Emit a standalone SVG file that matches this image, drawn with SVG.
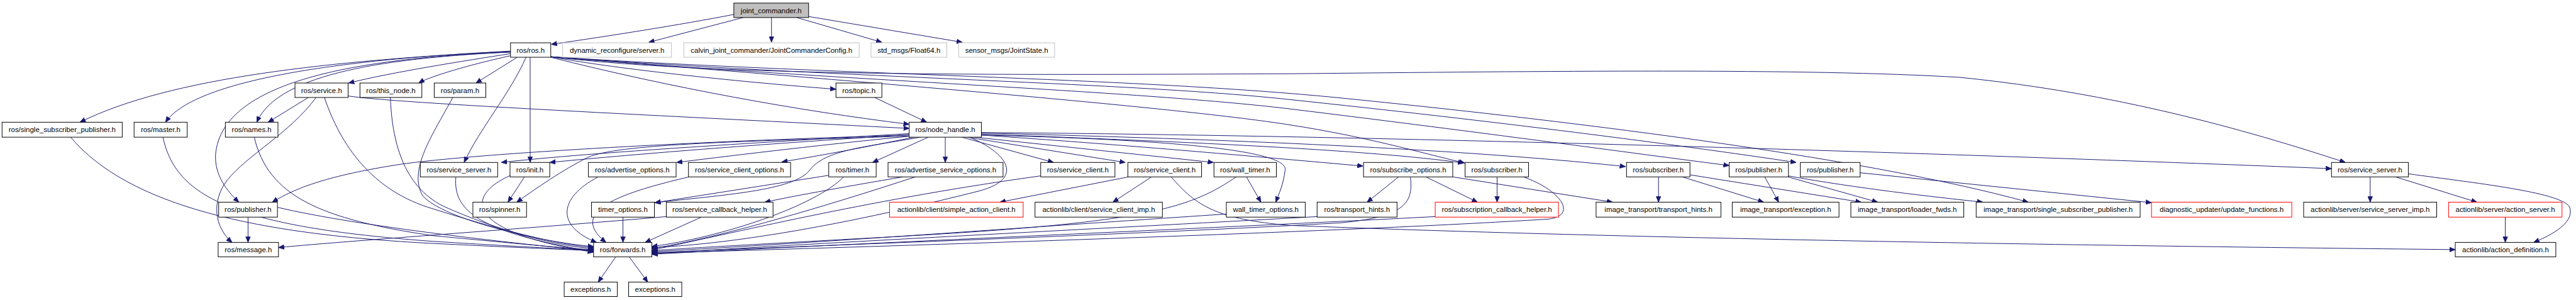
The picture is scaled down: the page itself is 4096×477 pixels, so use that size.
<svg xmlns="http://www.w3.org/2000/svg" width="4096" height="477" viewBox="0 0 4096 477">
<style>
.node rect{fill:#fff;stroke:#000;stroke-width:1.2}
.node.ext rect{stroke:#bfbfbf}
.node.trunc rect{stroke:#ff0000}
.node.root rect{fill:#bfbfbf}
.node text{font-family:"Liberation Sans",Arial,sans-serif;font-size:14px;fill:#000;text-anchor:middle}
.edges path{fill:none;stroke:#191970;stroke-width:1.2;marker-end:url(#arr)}
</style>
<defs>
<marker id="arr" markerUnits="userSpaceOnUse" markerWidth="11" markerHeight="10" viewBox="0 -5 11 10" refX="11" refY="0" orient="auto">
<path d="M0,-4.5 L11,0 L0,4.5 Z" fill="#191970" stroke="#191970" stroke-width="1"/>
</marker>
</defs>
<rect width="4096" height="477" fill="#fff"/>
<g transform="scale(0.82)">
<g class="edges" id="edges">
<path d="M1423,28 C1320,48 1180,70 1069,86"/>
<path d="M1441,34 L1258,82"/>
<path d="M1496,34 L1496,82"/>
<path d="M1545,34 L1710,82"/>
<path d="M1568,32 L1866,82"/>
<path d="M990,99 C640,118 330,150 155,237"/>
<path d="M990,100 C700,112 380,150 321,237"/>
<path d="M990,101 C760,112 540,140 498,237"/>
<path d="M990,101 C720,112 430,150 418,300 C416,340 440,370 463,392"/>
<path d="M990,104 C900,118 760,140 676,161"/>
<path d="M990,108 C900,128 830,150 812,161"/>
<path d="M1003,111 L923,161"/>
<path d="M1020,111 C990,180 930,250 900,315"/>
<path d="M1028,111 L1028,315"/>
<path d="M1068,110 C1200,135 1450,160 1621,173"/>
<path d="M1068,111 C1300,170 1550,215 1763,241"/>
<path d="M1068,110 C1400,150 2000,145 2500,143 C3000,138 3500,132 3800,150 C4100,180 4350,250 4548,315"/>
<path d="M1068,110 C1600,145 2200,150 2600,190 C3000,230 3600,300 3933,392"/>
<path d="M1068,110 C1600,150 2200,160 2500,193 C2900,235 3250,280 3483,315"/>
<path d="M1068,110 C1600,155 2200,175 2500,211 C2900,260 3150,295 3353,321"/>
<path d="M1068,110 C1700,160 2300,210 2500,242 C2650,265 2750,295 2840,316"/>
<path d="M1696,189 L1797,237"/>
<path d="M598,189 L520,237"/>
<path d="M613,189 C560,260 480,300 440,350 C410,390 415,440 450,470"/>
<path d="M629,189 C660,280 720,370 840,405 C950,440 1080,475 1151,480"/>
<path d="M675,186 C760,200 1300,225 1763,249"/>
<path d="M757,189 C760,270 780,360 860,400 C960,445 1080,478 1151,482"/>
<path d="M878,189 C840,260 790,330 820,380 C860,425 1050,470 1151,478"/>
<path d="M137,266 C250,400 500,455 840,472 C1000,480 1100,484 1151,486"/>
<path d="M316,266 C340,380 450,440 840,468 C1000,478 1100,483 1151,485"/>
<path d="M493,266 C520,380 620,425 840,457 C1000,472 1100,482 1151,484"/>
<path d="M481,421 L481,470"/>
<path d="M538,402 C700,440 1000,472 1151,487"/>
<path d="M884,343 C878,410 930,450 1151,488"/>
<path d="M990,340 C900,380 900,450 1151,489"/>
<path d="M1017,343 L985,392"/>
<path d="M1763,262 C1400,272 950,295 780,318 C650,338 580,360 528,392"/>
<path d="M1763,259 C1500,275 1150,295 972,315"/>
<path d="M1763,261 C1500,278 1250,297 1066,315"/>
<path d="M1763,264 C1400,275 1200,280 1140,305 C1090,330 1040,365 1002,392"/>
<path d="M1765,264 C1600,280 1450,298 1312,315"/>
<path d="M1772,266 C1680,285 1600,300 1516,314"/>
<path d="M1785,266 C1680,285 1600,290 1570,330 C1540,370 1400,378 1270,393"/>
<path d="M1800,266 L1692,315"/>
<path d="M1833,266 L1833,315"/>
<path d="M1880,266 C1950,295 1990,345 1900,370 C1800,395 1500,470 1264,480"/>
<path d="M1865,266 L2043,315"/>
<path d="M1875,266 L2182,315"/>
<path d="M1890,266 L2353,315"/>
<path d="M1903,262 C2200,282 2450,305 2643,322"/>
<path d="M1903,262 C2250,270 2500,290 2492,330 C2488,360 2480,375 2474,392"/>
<path d="M1903,260 C2300,275 2650,290 2838,316"/>
<path d="M1903,258 C2300,268 2800,285 3152,323"/>
<path d="M1903,257 C2600,262 3600,290 4521,327"/>
<path d="M1751,343 C1650,360 1550,378 1483,392"/>
<path d="M1775,343 C1600,400 1400,460 1264,482"/>
<path d="M2018,341 C1700,385 1450,445 1264,485"/>
<path d="M2188,343 L1939,392"/>
<path d="M2233,343 L2158,392"/>
<path d="M2271,343 C2320,400 2360,425 2500,437 C3200,465 4200,478 4761,484"/>
<path d="M2417,343 L2445,392"/>
<path d="M2397,343 C2300,410 2200,435 1660,463 C1500,472 1350,480 1264,486"/>
<path d="M2378,415 C2000,440 1600,470 1264,488"/>
<path d="M1607,340 L1270,393"/>
<path d="M1636,343 C1580,400 1400,460 1264,478"/>
<path d="M1160,343 C1080,385 1080,440 1157,470"/>
<path d="M1336,343 C1200,375 1100,410 1175,470"/>
<path d="M1208,421 L1208,470"/>
<path d="M1360,421 L1251,470"/>
<path d="M1292,420 C1000,445 700,465 540,480"/>
<path d="M2712,343 L2651,392"/>
<path d="M2765,343 L2865,392"/>
<path d="M2735,343 C2740,390 2730,420 2600,432 C2200,455 1600,475 1264,490"/>
<path d="M2817,343 L3127,392"/>
<path d="M2903,343 L2903,392"/>
<path d="M2954,343 C3030,370 3060,420 3000,425 C2600,450 1800,475 1264,491"/>
<path d="M3216,343 L3216,392"/>
<path d="M3262,343 L3420,392"/>
<path d="M3277,339 L3609,392"/>
<path d="M2554,420 C2200,440 1600,470 1264,492"/>
<path d="M2783,420 C2300,445 1700,470 1264,493"/>
<path d="M3422,343 L3449,392"/>
<path d="M3467,343 L3641,392"/>
<path d="M3467,341 C3600,365 3750,382 3845,392"/>
<path d="M3607,335 L4172,393"/>
<path d="M4596,343 L4596,392"/>
<path d="M4645,343 L4803,392"/>
<path d="M4670,337 C4800,355 4960,372 4982,400 C4995,430 4950,455 4913,470"/>
<path d="M4858,421 L4858,470"/>
<path d="M1194,498 L1160,547"/>
<path d="M1220,498 L1256,547"/>
</g>
<g id="n_joint_commander" class="node root"><rect x="1423" y="6" width="145" height="28"/><text x="1495.5" y="25">joint_commander.h</text></g>
<g id="n_ros" class="node"><rect x="990" y="83" width="78" height="28"/><text x="1029" y="102">ros/ros.h</text></g>
<g id="n_dyn_server" class="node ext"><rect x="1091" y="83" width="211" height="28"/><text x="1196.5" y="102">dynamic_reconfigure/server.h</text></g>
<g id="n_calvin_config" class="node ext"><rect x="1326" y="83" width="340" height="28"/><text x="1496" y="102">calvin_joint_commander/JointCommanderConfig.h</text></g>
<g id="n_float64" class="node ext"><rect x="1689" y="83" width="147" height="28"/><text x="1762.5" y="102">std_msgs/Float64.h</text></g>
<g id="n_jointstate" class="node ext"><rect x="1859" y="83" width="186" height="28"/><text x="1952" y="102">sensor_msgs/JointState.h</text></g>
<g id="n_service" class="node"><rect x="572" y="161" width="103" height="28"/><text x="623.5" y="180">ros/service.h</text></g>
<g id="n_this_node" class="node"><rect x="698" y="161" width="120" height="28"/><text x="758" y="180">ros/this_node.h</text></g>
<g id="n_param" class="node"><rect x="842" y="161" width="100" height="28"/><text x="892" y="180">ros/param.h</text></g>
<g id="n_topic" class="node"><rect x="1621" y="161" width="89" height="28"/><text x="1665.5" y="180">ros/topic.h</text></g>
<g id="n_ssp" class="node"><rect x="4" y="237" width="233" height="29"/><text x="120.5" y="256.5">ros/single_subscriber_publisher.h</text></g>
<g id="n_master" class="node"><rect x="260" y="237" width="103" height="29"/><text x="311.5" y="256.5">ros/master.h</text></g>
<g id="n_names" class="node"><rect x="437" y="237" width="102" height="29"/><text x="488" y="256.5">ros/names.h</text></g>
<g id="n_node_handle" class="node"><rect x="1763" y="237" width="140" height="29"/><text x="1833" y="256.5">ros/node_handle.h</text></g>
<g id="n_service_server_1" class="node"><rect x="815" y="315" width="150" height="28"/><text x="890" y="334">ros/service_server.h</text></g>
<g id="n_init" class="node"><rect x="989" y="315" width="77" height="28"/><text x="1027.5" y="334">ros/init.h</text></g>
<g id="n_advertise_options" class="node"><rect x="1141" y="315" width="170" height="28"/><text x="1226" y="334">ros/advertise_options.h</text></g>
<g id="n_service_client_options" class="node"><rect x="1335" y="315" width="198" height="28"/><text x="1434" y="334">ros/service_client_options.h</text></g>
<g id="n_timer" class="node"><rect x="1607" y="315" width="92" height="28"/><text x="1653" y="334">ros/timer.h</text></g>
<g id="n_advertise_service_options" class="node"><rect x="1722" y="315" width="223" height="28"/><text x="1833.5" y="334">ros/advertise_service_options.h</text></g>
<g id="n_service_client_1" class="node"><rect x="2018" y="315" width="144" height="28"/><text x="2090" y="334">ros/service_client.h</text></g>
<g id="n_service_client_2" class="node"><rect x="2187" y="315" width="143" height="28"/><text x="2258.5" y="334">ros/service_client.h</text></g>
<g id="n_wall_timer" class="node"><rect x="2354" y="315" width="121" height="28"/><text x="2414.5" y="334">ros/wall_timer.h</text></g>
<g id="n_subscribe_options" class="node"><rect x="2644" y="315" width="173" height="28"/><text x="2730.5" y="334">ros/subscribe_options.h</text></g>
<g id="n_subscriber_1" class="node"><rect x="2841" y="315" width="123" height="28"/><text x="2902.5" y="334">ros/subscriber.h</text></g>
<g id="n_subscriber_2" class="node"><rect x="3154" y="315" width="123" height="28"/><text x="3215.5" y="334">ros/subscriber.h</text></g>
<g id="n_publisher_2" class="node"><rect x="3353" y="315" width="115" height="28"/><text x="3410.5" y="334">ros/publisher.h</text></g>
<g id="n_publisher_3" class="node"><rect x="3491" y="315" width="116" height="28"/><text x="3549" y="334">ros/publisher.h</text></g>
<g id="n_service_server_2" class="node"><rect x="4521" y="315" width="149" height="28"/><text x="4595.5" y="334">ros/service_server.h</text></g>
<g id="n_publisher_1" class="node"><rect x="424" y="392" width="114" height="29"/><text x="481" y="411.5">ros/publisher.h</text></g>
<g id="n_spinner" class="node"><rect x="917" y="392" width="104" height="29"/><text x="969" y="411.5">ros/spinner.h</text></g>
<g id="n_timer_options" class="node"><rect x="1147" y="392" width="122" height="29"/><text x="1208" y="411.5">timer_options.h</text></g>
<g id="n_service_callback_helper" class="node"><rect x="1292" y="392" width="207" height="29"/><text x="1395.5" y="411.5">ros/service_callback_helper.h</text></g>
<g id="n_simple_action_client" class="node trunc"><rect x="1725" y="392" width="259" height="29"/><text x="1854.5" y="411.5">actionlib/client/simple_action_client.h</text></g>
<g id="n_service_client_imp" class="node"><rect x="2007" y="392" width="247" height="29"/><text x="2130.5" y="411.5">actionlib/client/service_client_imp.h</text></g>
<g id="n_wall_timer_options" class="node"><rect x="2378" y="392" width="153" height="29"/><text x="2454.5" y="411.5">wall_timer_options.h</text></g>
<g id="n_transport_hints" class="node"><rect x="2554" y="392" width="155" height="29"/><text x="2631.5" y="411.5">ros/transport_hints.h</text></g>
<g id="n_subscription_callback_helper" class="node trunc"><rect x="2783" y="392" width="239" height="29"/><text x="2902.5" y="411.5">ros/subscription_callback_helper.h</text></g>
<g id="n_it_transport_hints" class="node"><rect x="3095" y="392" width="242" height="29"/><text x="3216" y="411.5">image_transport/transport_hints.h</text></g>
<g id="n_it_exception" class="node"><rect x="3359" y="392" width="207" height="29"/><text x="3462.5" y="411.5">image_transport/exception.h</text></g>
<g id="n_it_loader_fwds" class="node"><rect x="3589" y="392" width="219" height="29"/><text x="3698.5" y="411.5">image_transport/loader_fwds.h</text></g>
<g id="n_it_ssp" class="node"><rect x="3832" y="392" width="318" height="29"/><text x="3991" y="411.5">image_transport/single_subscriber_publisher.h</text></g>
<g id="n_update_functions" class="node trunc"><rect x="4172" y="392" width="272" height="29"/><text x="4308" y="411.5">diagnostic_updater/update_functions.h</text></g>
<g id="n_service_server_imp" class="node"><rect x="4467" y="392" width="258" height="29"/><text x="4596" y="411.5">actionlib/server/service_server_imp.h</text></g>
<g id="n_action_server" class="node trunc"><rect x="4748" y="392" width="220" height="29"/><text x="4858" y="411.5">actionlib/server/action_server.h</text></g>
<g id="n_message" class="node"><rect x="423" y="470" width="117" height="28"/><text x="481.5" y="489">ros/message.h</text></g>
<g id="n_forwards" class="node"><rect x="1151" y="470" width="113" height="28"/><text x="1207.5" y="489">ros/forwards.h</text></g>
<g id="n_action_definition" class="node"><rect x="4761" y="470" width="195" height="28"/><text x="4858.5" y="489">actionlib/action_definition.h</text></g>
<g id="n_exceptions_1" class="node"><rect x="1094" y="547" width="103" height="28"/><text x="1145.5" y="566">exceptions.h</text></g>
<g id="n_exceptions_2" class="node"><rect x="1219" y="547" width="103" height="28"/><text x="1270.5" y="566">exceptions.h</text></g>
</g>
</svg>
